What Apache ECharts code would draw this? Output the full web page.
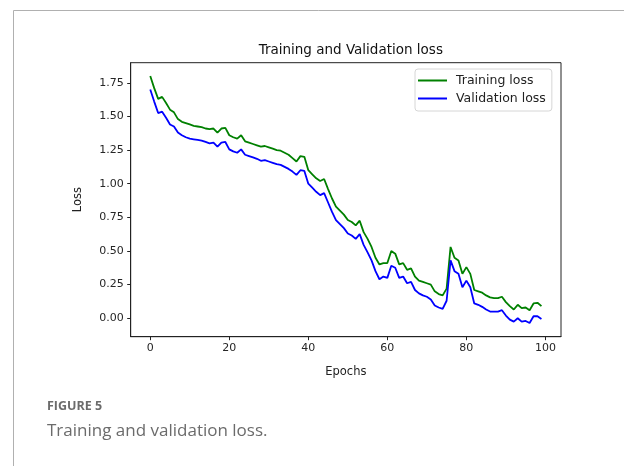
<!DOCTYPE html>
<html>
<head>
<meta charset="utf-8">
<script src="https://cdn.jsdelivr.net/npm/echarts@6/dist/echarts.min.js"></script>
<style>
html,body{margin:0;padding:0;background:#fff;}
#chart{width:624px;height:466px;}
</style>
</head>
<body>
<div id="chart"></div>
<script>
var epochs = [];
for (var k = 0; k < 100; k++) epochs.push(k);

var trainingLoss = [
 1.80,1.71,1.63,1.645,1.60,1.55,1.53,1.48,1.46,1.45,
 1.44,1.43,1.425,1.42,1.41,1.405,1.41,1.38,1.41,1.415,
 1.36,1.345,1.335,1.36,1.315,1.305,1.295,1.285,1.275,1.28,
 1.27,1.26,1.25,1.245,1.23,1.215,1.19,1.165,1.205,1.20,
 1.10,1.07,1.04,1.02,1.035,0.96,0.89,0.83,0.80,0.77,
 0.73,0.715,0.69,0.725,0.64,0.59,0.53,0.45,0.40,0.41,
 0.41,0.50,0.48,0.40,0.41,0.36,0.37,0.31,0.28,0.27,
 0.26,0.25,0.20,0.18,0.17,0.22,0.53,0.45,0.43,0.33,
 0.38,0.33,0.21,0.20,0.19,0.17,0.155,0.15,0.15,0.16,
 0.12,0.09,0.065,0.10,0.075,0.08,0.06,0.11,0.115,0.09
];
var validationLoss = [
 1.70,1.61,1.525,1.535,1.49,1.44,1.425,1.38,1.36,1.345,
 1.335,1.33,1.325,1.32,1.31,1.30,1.305,1.275,1.305,1.31,
 1.255,1.24,1.23,1.255,1.215,1.205,1.195,1.185,1.17,1.175,
 1.165,1.155,1.145,1.14,1.125,1.11,1.09,1.065,1.10,1.095,
 1.00,0.97,0.94,0.915,0.93,0.86,0.79,0.73,0.70,0.67,
 0.63,0.615,0.59,0.625,0.545,0.49,0.43,0.35,0.29,0.31,
 0.30,0.39,0.375,0.30,0.31,0.26,0.27,0.21,0.185,0.17,
 0.16,0.14,0.095,0.08,0.07,0.13,0.43,0.35,0.33,0.23,
 0.28,0.23,0.11,0.10,0.085,0.065,0.05,0.05,0.05,0.06,
 0.02,-0.01,-0.025,0.0,-0.025,-0.02,-0.035,0.015,0.015,-0.005
];
var xTicks = [0,20,40,60,80,100];
var yTicks = [0,0.25,0.5,0.75,1.0,1.25,1.5,1.75];

function pairs(vals){ return epochs.map(function(e,i){ return [e, vals[i]]; }); }

var chart = echarts.init(document.getElementById('chart'), null, {renderer:'canvas'});
var tickFont = {fontFamily:'DejaVu Sans', fontSize:11, color:'#262626'};
chart.setOption({
  animation:false,
  backgroundColor:'#fff',
  title:{
    text:'Training and Validation loss',
    left:345.8, top:38, textAlign:'center',
    textStyle:{fontFamily:'DejaVu Sans', fontSize:13.5, fontWeight:'normal', color:'#111'}
  },
  grid:{left:130.7, right:63, top:62.7, bottom:129.3, show:true, borderColor:'#222', borderWidth:1, backgroundColor:'transparent'},
  legend:{
    left:415, top:69, orient:'vertical',
    itemWidth:29, itemHeight:2, itemGap:5,
    padding:[5,6,6,3],
    borderColor:'#d6d6d6', borderWidth:1, borderRadius:3,
    backgroundColor:'#fff',
    icon:'rect',
    textStyle:{fontFamily:'DejaVu Sans', fontSize:12.5, color:'#222', padding:[0,0,0,4]},
    data:['Training loss','Validation loss']
  },
  xAxis:{
    type:'value', min:-4.95, max:103.95,
    name:'Epochs', nameLocation:'middle', nameGap:29,
    nameTextStyle:{fontFamily:'DejaVu Sans', fontSize:11.5, color:'#222'},
    axisLine:{show:true, onZero:false, lineStyle:{color:'#222', width:1}},
    axisTick:{show:true, length:3.5, lineStyle:{color:'#222'}, customValues:xTicks},
    axisLabel:Object.assign({customValues:xTicks, margin:6}, tickFont),
    splitLine:{show:false}
  },
  yAxis:{
    type:'value', min:-0.137, max:1.899,
    name:'Loss', nameLocation:'middle', nameGap:47, nameRotate:90,
    nameTextStyle:{fontFamily:'DejaVu Sans', fontSize:11.5, color:'#222'},
    axisLine:{show:true, onZero:false, lineStyle:{color:'#222', width:1}},
    axisTick:{show:true, length:3.5, lineStyle:{color:'#222'}, customValues:yTicks},
    axisLabel:Object.assign({customValues:yTicks, margin:7, formatter:function(v){return v.toFixed(2);}}, tickFont),
    splitLine:{show:false}
  },
  series:[
    {name:'Training loss', type:'line', data:pairs(trainingLoss), showSymbol:false, symbol:'none',
     lineStyle:{color:'#008000', width:1.8}, itemStyle:{color:'#008000'}},
    {name:'Validation loss', type:'line', data:pairs(validationLoss), showSymbol:false, symbol:'none',
     lineStyle:{color:'#0000ff', width:1.8}, itemStyle:{color:'#0000ff'}}
  ],
  graphic:[
    {type:'line', shape:{x1:13.5, y1:10.5, x2:624, y2:10.5}, style:{stroke:'#b0b0b0', lineWidth:1}, silent:true},
    {type:'line', shape:{x1:13.5, y1:10.5, x2:13.5, y2:466}, style:{stroke:'#b0b0b0', lineWidth:1}, silent:true},
    {type:'text', left:47, top:400, style:{text:'FIGURE 5', font:'bold 12.5px "Open Sans"', fill:'#6b6b6b'}, silent:true},
    {type:'text', left:47, top:423, style:{text:'Training and validation loss.', font:'17px "Open Sans"', fill:'#6b6b6b'}, silent:true}
  ]
});
</script>
</body>
</html>
